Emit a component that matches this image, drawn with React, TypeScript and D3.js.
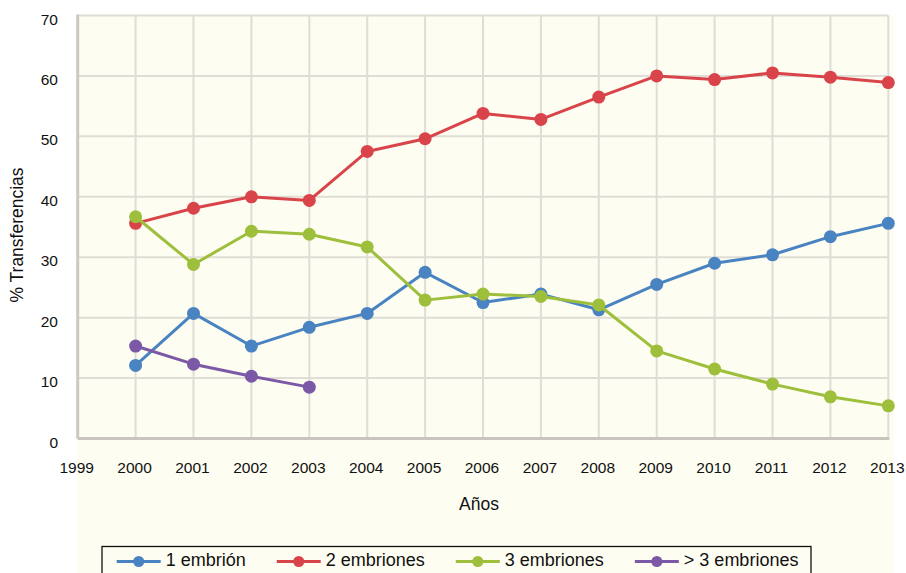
import React, { useMemo } from "react";
import * as d3 from "d3";

const years = [2000, 2001, 2002, 2003, 2004, 2005, 2006, 2007, 2008, 2009, 2010, 2011, 2012, 2013];
const xTicks = [1999, 2000, 2001, 2002, 2003, 2004, 2005, 2006, 2007, 2008, 2009, 2010, 2011, 2012, 2013];
const yTicks = [0, 10, 20, 30, 40, 50, 60, 70];

const unEmbrion = [12.1, 20.7, 15.3, 18.4, 20.7, 27.5, 22.5, 23.9, 21.3, 25.5, 29.0, 30.4, 33.4, 35.6];
const dosEmbriones = [35.6, 38.1, 40.0, 39.4, 47.5, 49.6, 53.8, 52.8, 56.5, 60.0, 59.4, 60.5, 59.8, 58.9];
const tresEmbriones = [36.7, 28.8, 34.3, 33.8, 31.7, 22.9, 23.9, 23.5, 22.1, 14.5, 11.5, 9.0, 6.9, 5.4];
const masDeTres = [15.3, 12.3, 10.3, 8.5];

const seriesNames = ["1 embrión", "2 embriones", "3 embriones", "> 3 embriones"];
const seriesColors = ["#4a83c1", "#d9444b", "#9dbf3b", "#7c59a6"];
const seriesValues = [unEmbrion, dosEmbriones, tresEmbriones, masDeTres];

const FONT = "'Liberation Sans', Arial, Helvetica, sans-serif";

export default function App() {
  const W = 906;
  const H = 573;
  const left = 77.7;
  const right = 888.3;
  const top = 15.5;
  const bottom = 438.5;

  const x = d3.scaleLinear().domain([1999, 2013]).range([left, right]);
  const y = d3.scaleLinear().domain([0, 70]).range([bottom, top]);

  const line = d3
    .line<[number, number]>()
    .x((d) => x(d[0]))
    .y((d) => y(d[1]));

  const series = seriesValues.map((vals, i) => ({
    name: seriesNames[i],
    color: seriesColors[i],
    points: vals.map((v, j) => [years[j], v] as [number, number]),
  }));

  const legendWidths = useMemo(() => {
    const c = document.createElement("canvas").getContext("2d");
    if (!c) return seriesNames.map((s) => s.length * 9);
    c.font = `18px ${FONT}`;
    return seriesNames.map((s) => c.measureText(s).width);
  }, []);

  let lx = 116.7;
  const legendItems = series.map((s, i) => {
    const start = lx;
    lx += 44 + 5 + legendWidths[i] + 31;
    return { ...s, start };
  });

  return (
    <svg
      width={W}
      height={H}
      style={{ position: "absolute", left: 0, top: 0, display: "block" }}
      fontFamily={FONT}
    >
      <rect x={0} y={0} width={W} height={H} fill="#ffffff" />
      <rect x={left - 1} y={top} width={894 - left + 1} height={H - top} fill="#fdfdf1" />

      {/* grid */}
      {yTicks.map((t) => (
        <line key={"gy" + t} x1={left} x2={right} y1={y(t)} y2={y(t)} stroke="#e0ddd6" strokeWidth={2} />
      ))}
      {xTicks.map((t) => (
        <line key={"gx" + t} x1={x(t)} x2={x(t)} y1={top} y2={bottom} stroke="#e0ddd6" strokeWidth={2} />
      ))}
      {/* axes */}
      <line x1={left} x2={left} y1={top - 1} y2={bottom} stroke="#cdc9c2" strokeWidth={3} />
      <line x1={left} x2={right + 1} y1={bottom} y2={bottom} stroke="#c9c5be" strokeWidth={3} />

      {/* y tick labels */}
      {yTicks.map((t) => (
        <text key={"ty" + t} x={58} y={y(t) + 5} textAnchor="end" dominantBaseline="middle" fontSize={15.5} fill="#111">
          {t}
        </text>
      ))}
      {/* x tick labels */}
      {xTicks.map((t) => (
        <text key={"tx" + t} x={x(t) - 1} y={468.5} textAnchor="middle" dominantBaseline="middle" fontSize={15.5} fill="#111">
          {t}
        </text>
      ))}

      <text x={479} y={505} textAnchor="middle" dominantBaseline="middle" fontSize={17.5} fill="#111">
        Años
      </text>
      <text
        transform={`translate(18.5,235) rotate(-90)`}
        textAnchor="middle"
        dominantBaseline="middle"
        fontSize={17.5}
        fill="#111"
      >
        % Transferencias
      </text>

      {/* series */}
      {series.map((s) => (
        <g key={s.name}>
          <path d={line(s.points) || ""} fill="none" stroke={s.color} strokeWidth={3} strokeLinejoin="round" />
          {s.points.map((p, j) => (
            <circle key={j} cx={x(p[0])} cy={y(p[1])} r={6.5} fill={s.color} />
          ))}
        </g>
      ))}

      {/* legend */}
      <rect x={102} y={546.5} width={709} height={40} fill="#fdfdf1" stroke="#111" strokeWidth={1.3} />
      {legendItems.map((s) => (
        <g key={"lg" + s.name}>
          <line x1={s.start} x2={s.start + 44} y1={561.5} y2={561.5} stroke={s.color} strokeWidth={3} />
          <circle cx={s.start + 22} cy={561.5} r={5.5} fill={s.color} />
          <text x={s.start + 49} y={561.5} dominantBaseline="middle" fontSize={18} fill="#111">
            {s.name}
          </text>
        </g>
      ))}
    </svg>
  );
}
